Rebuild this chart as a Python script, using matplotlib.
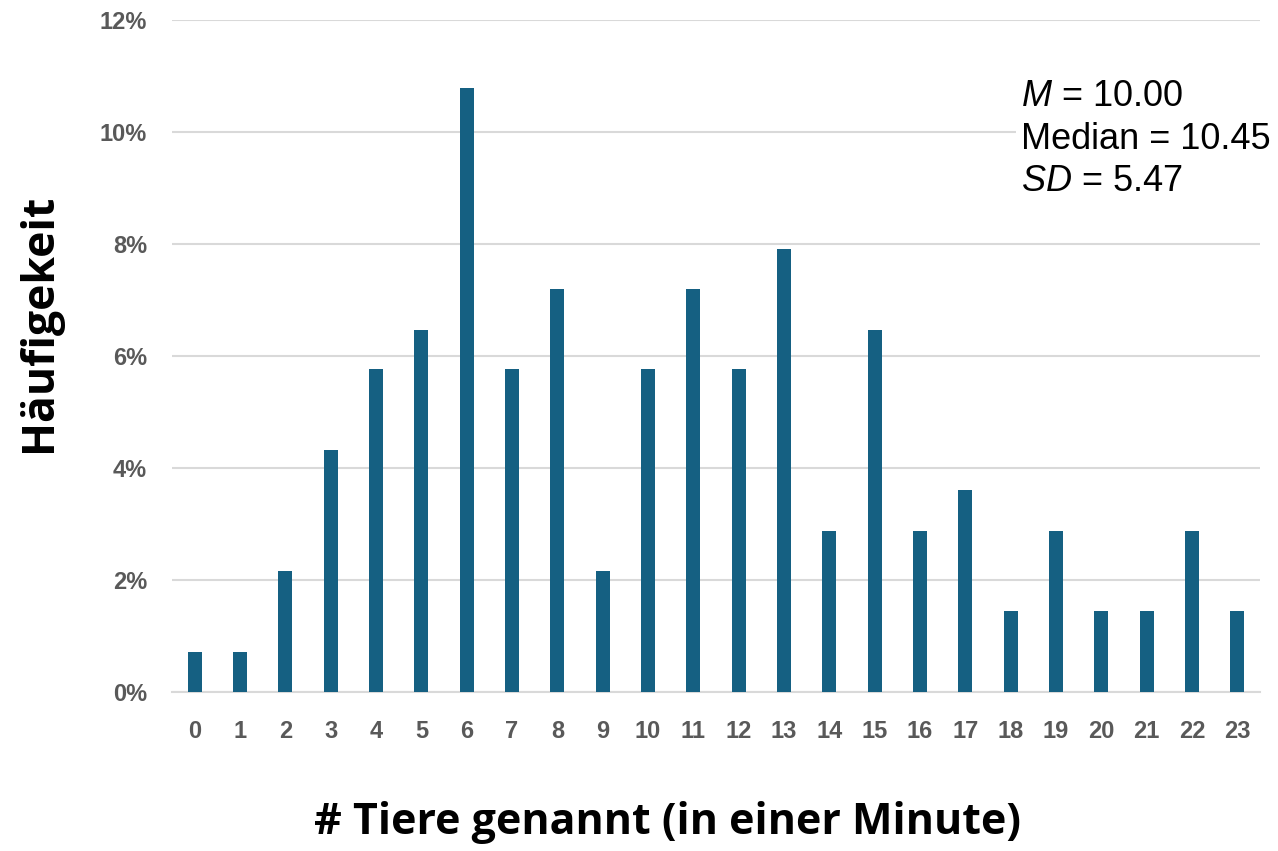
import numpy as np
import matplotlib
matplotlib.use("Agg")
import matplotlib.pyplot as plt
from matplotlib.ticker import PercentFormatter

plt.rcParams['mathtext.fontset'] = 'custom'
plt.rcParams['mathtext.rm'] = 'Liberation Sans'
plt.rcParams['mathtext.it'] = 'Liberation Sans:italic'

# number of animals named, and share of participants (%)
animals = list(range(24))
share = [0.72, 0.72, 2.16, 4.32, 5.76, 6.47, 10.79, 5.76, 7.19, 2.16, 5.76,
         7.19, 5.76, 7.91, 2.88, 6.47, 2.88, 3.60, 1.44, 2.88, 1.44, 1.44,
         2.88, 1.44]
yticks = [0, 2, 4, 6, 8, 10, 12]
stats_text = "$\\it{M}$ = 10.00\nMedian = 10.45\n$\\it{SD}$ = 5.47"

bar_col = "#156082"
tick_col = "#595959"
grid_col = "#d9d9d9"

fig = plt.figure(figsize=(12.78, 8.51), dpi=100)
ax = fig.add_axes([0.1346, 0.1868, 0.8513, 0.7897])

x = np.arange(len(animals))
ax.bar(x, share, width=0.31, color=bar_col, zorder=3)

ax.set_xlim(-0.5, len(animals) - 0.5)
ax.set_ylim(0, 12)
ax.set_yticks(yticks)
ax.yaxis.set_major_formatter(PercentFormatter(decimals=0))
ax.set_xticks(x)
ax.set_xticklabels([str(a) for a in animals])
ax.grid(axis='y', color=grid_col, linewidth=1.5, zorder=0)
for s in ['top', 'right', 'left']:
    ax.spines[s].set_visible(False)
ax.spines['bottom'].set_color(grid_col)
ax.spines['bottom'].set_linewidth(1.5)
ax.tick_params(length=0, labelcolor=tick_col, labelsize=17, pad=20)
ax.tick_params(axis='y', pad=18)
for lab in ax.get_xticklabels() + ax.get_yticklabels():
    lab.set_fontfamily('Liberation Sans')
    lab.set_fontweight('bold')

fig.text(0.522, 0.034, "# Tiere genannt (in einer Minute)", fontsize=31,
         fontweight='bold', family='Open Sans', ha='center', va='center')
fig.text(0.031, 0.621, "Häufigekeit", fontsize=32, fontweight='bold',
         family='Open Sans', rotation=90, ha='center', va='center')

fig.text(0.799, 0.907, stats_text, fontsize=26, family='Liberation Sans',
         va='top', ha='left', linespacing=1.28,
         bbox=dict(facecolor='white', edgecolor='none', pad=4))

fig.savefig("out.png", dpi=100)
